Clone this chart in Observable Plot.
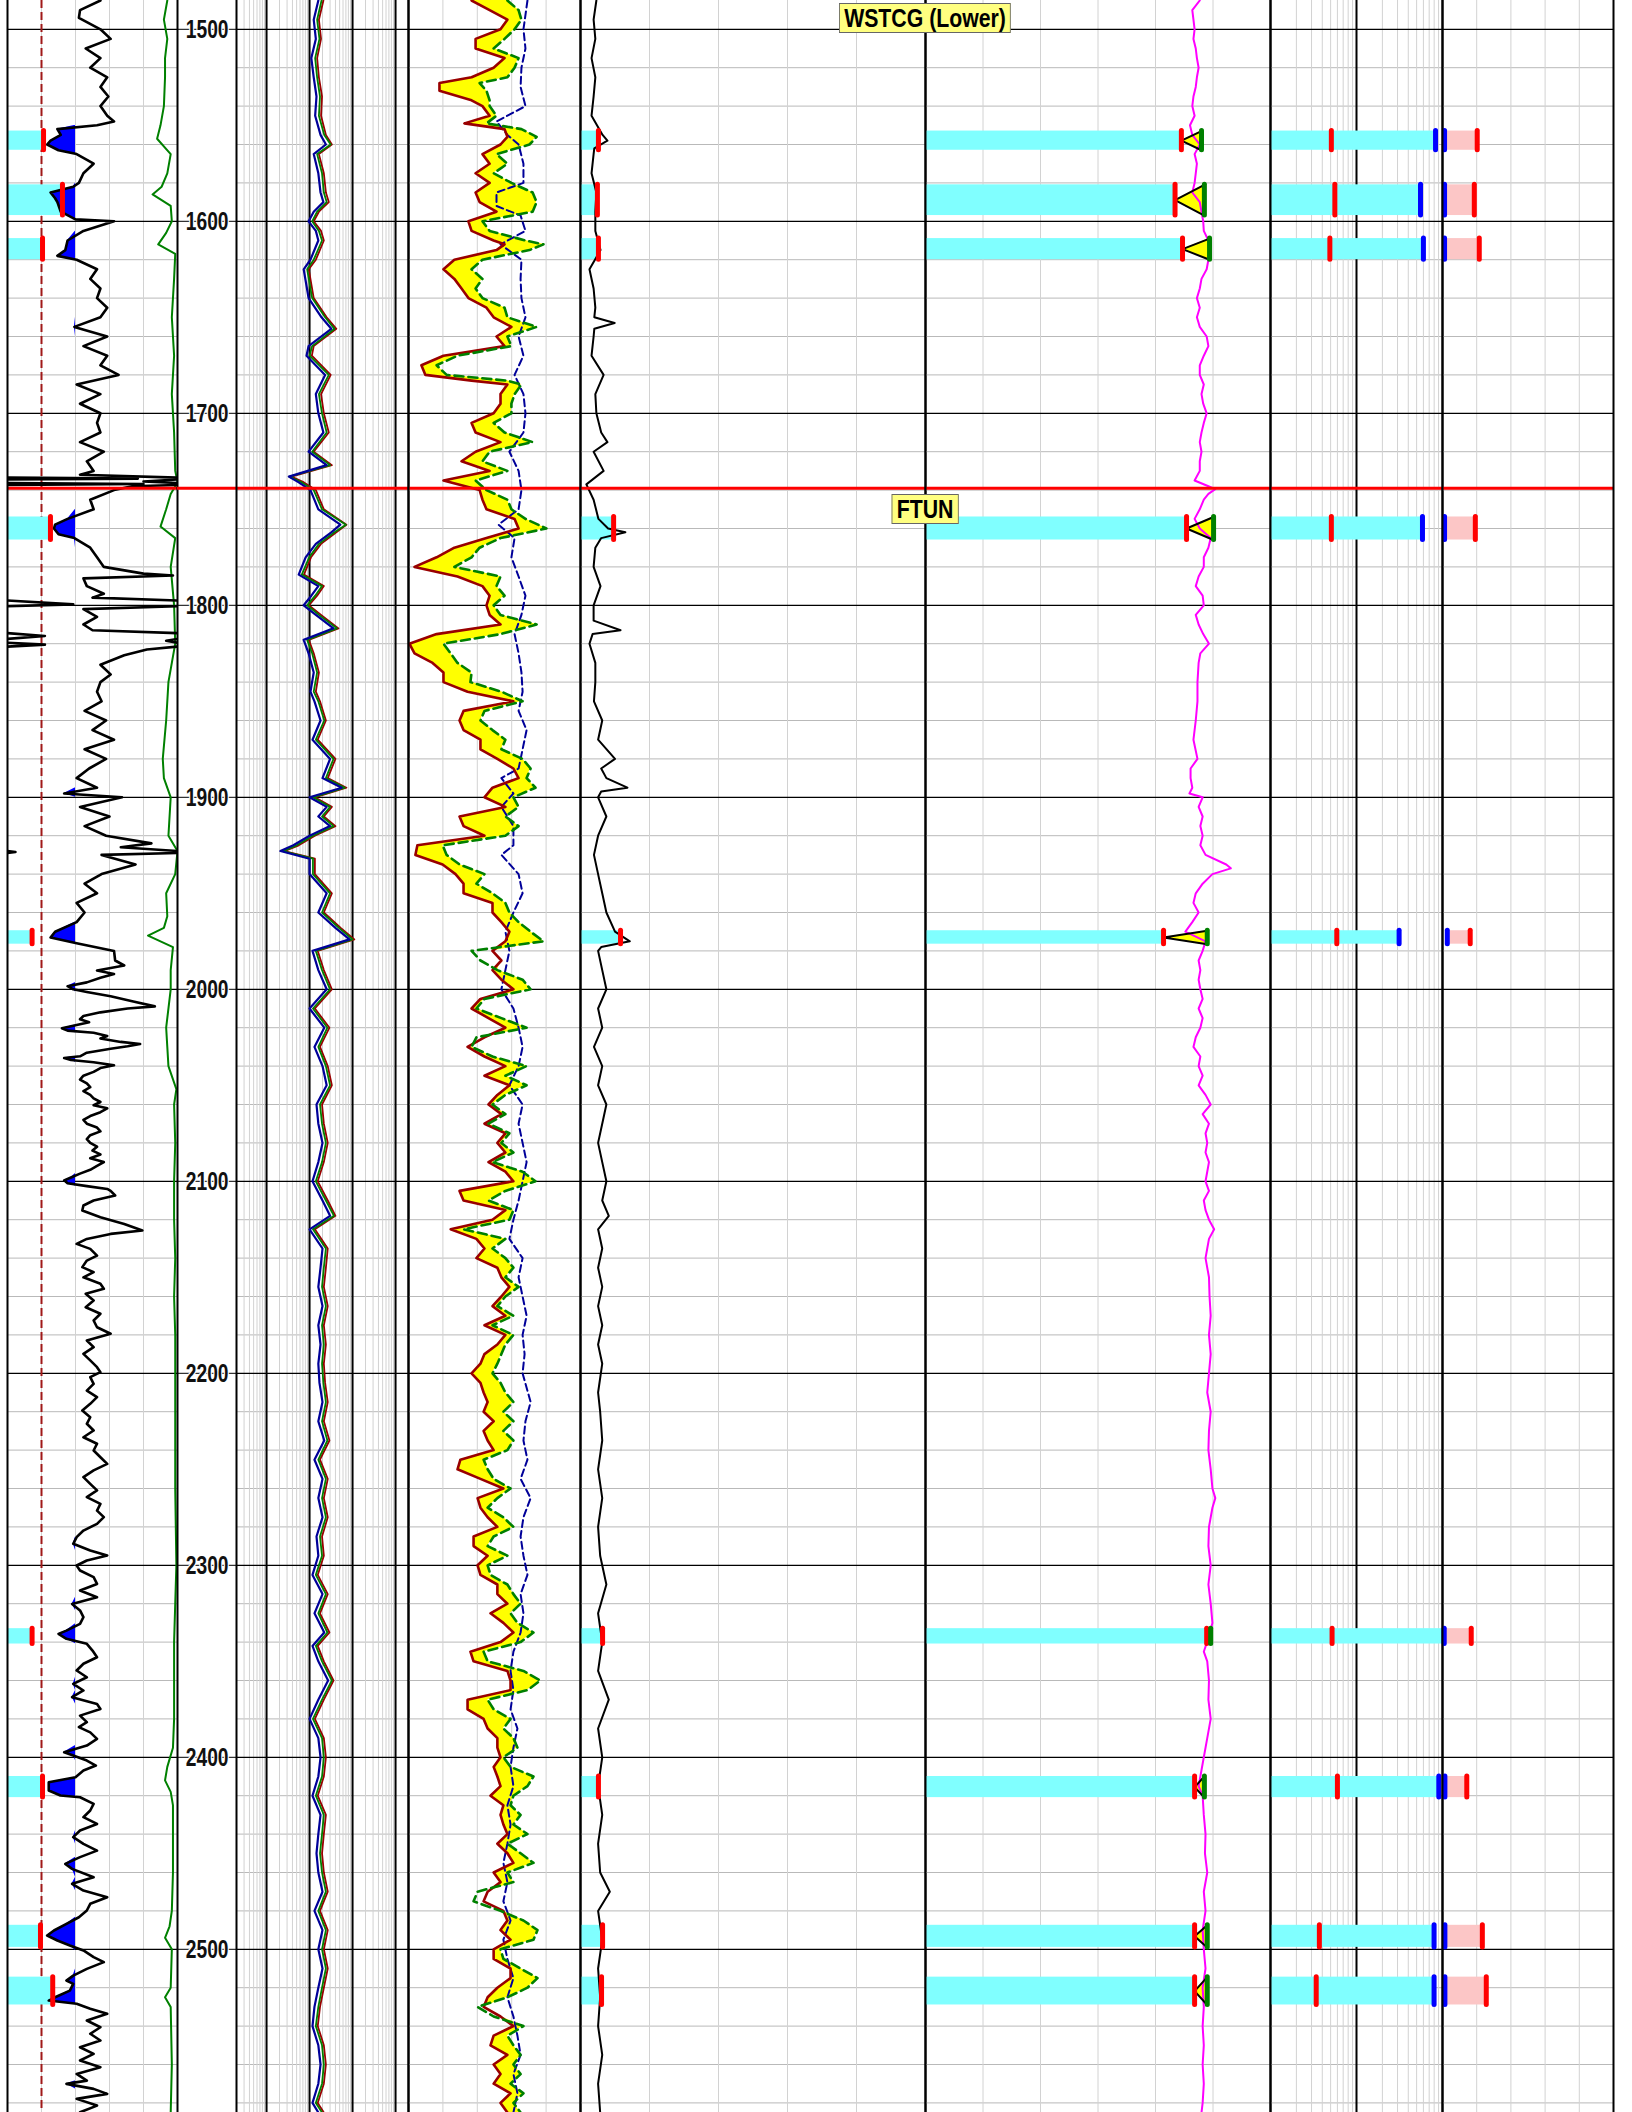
<!DOCTYPE html>
<html><head><meta charset="utf-8">
<script src="https://cdn.jsdelivr.net/npm/d3@7"></script>
<script src="https://cdn.jsdelivr.net/npm/@observablehq/plot@0.6"></script>
<style>
html,body{margin:0;padding:0;background:#fff;}
#chart{position:relative;width:1632px;height:2112px;overflow:hidden;background:#fff;}
#chart > div.trk{position:absolute;top:0;}
#chart svg{overflow:visible;background:transparent;}
.ftop{position:absolute;background:#ffff80;border:1px solid #666;font:bold 25px "Liberation Sans",Arial,sans-serif;line-height:28px;padding:0 5px;white-space:nowrap;transform:translateX(-50%) scaleX(0.85);color:#000;}
</style></head><body><div id="chart"></div>
<script>
// ---------------- DATA ----------------
const depthDomain = [1485, 2585];
const depthMajor = [1500,1600,1700,1800,1900,2000,2100,2200,2300,2400,2500];
const ftunDepth = 1739;
const formationNames = ["WSTCG (Lower)", "FTUN"];
const formationLabelDepths = [1494.5, 1750];

// zones (intervals)
const zoneTop  = [1553, 1581, 1609, 1754, 1969.5, 2333, 2410, 2487.5, 2514.5];
const zoneBase = [1563, 1597, 1620, 1766, 1976.5, 2341, 2421, 2499, 2529];
const zoneGR   = [31.8, 48.5, 30.9, 37.9, 21.7, 21.7, 30.9, 29.1, 39.9];
const zoneT4   = [5.2, 4.9, 5.2, 9.6, 11.6, 6.4, 5.2, 6.4, 6.1];
const zoneT5Red   = [44.5, 43.4, 44.7, 45.4, 41.4, 48.9, 46.8, 46.8, 46.8];
const zoneT5Green = [48.0, 48.5, 49.4, 50.1, 49.0, 49.6, 48.5, 49.0, 49.0];
const zoneT6Red   = [0.51, 0.56, 0.49, 0.51, 0.59, 0.52, 0.60, 0.37, 0.34];
const zoneT6Blue  = [8.3, 5.55, 6.0, 5.85, 3.13, null, 9.06, 7.98, 7.98];
const zoneT6Blue2 = [1.2, 1.2, 1.2, 1.2, 2.8, 1.0, 1.4, 1.4, 1.4];
const zoneT6Red2  = [20.3, 18.6, 21.5, 19.2, 16.2, 16.8, 14.2, 23.3, 25.6];

// Track 1: gamma ray [depth, API]
const gammaRay = [
[1485,82],[1490,64],[1494,63],[1500,82],[1505,91],[1510,69],[1515,82],[1520,73],[1525,88],[1530,82],[1535,89],[1540,82],[1545,88],[1548,94],[1550,79],[1552,44],[1555,47],[1558,38],[1560,35],[1563,45],[1565,61],[1570,76],[1575,67],[1580,63],[1582,58],[1585,38],[1588,42],[1590,44],[1595,47],[1599,60],[1600,94],[1605,67],[1610,53],[1615,51],[1618,44],[1620,61],[1625,79],[1630,73],[1635,82],[1640,79],[1645,88],[1650,82],[1655,59],[1660,88],[1665,67],[1670,88],[1675,82],[1680,98],[1685,61],[1690,82],[1695,64],[1700,82],[1705,79],[1710,82],[1715,64],[1720,85],[1725,70],[1730,76],[1732,64],[1733.5,150],[1734,265],[1734.5,150],[1735.5,120],[1736.3,150],[1736.8,270],[1737.3,150],[1738,110],[1740,94],[1745,73],[1750,76],[1755,53],[1758,42],[1760,41],[1763,45],[1765,59],[1770,73],[1775,79],[1780,85],[1783.5,120],[1784.5,146],[1786,67],[1790,70],[1794,85],[1796,75],[1797.5,150],[1799.5,208],[1800.5,150],[1802,67],[1806,79],[1810,67],[1813,75],[1814.5,150],[1816,183],[1817.5,150],[1818.5,140],[1819.5,150],[1820.5,183],[1821.5,150],[1823,123],[1826,103],[1831,82],[1836,91],[1840,82],
[1845,79],[1850,83],[1855,68],[1860,87],[1865,75],[1870,94],[1875,68],[1880,87],[1885,72],[1890,61],[1895,79],[1898,50],[1900,101],[1905,64],[1910,90],[1915,68],[1920,87],[1924,127],[1926,100],[1928,150],[1928.5,157],[1929,150],[1930,83],[1935,113],[1940,83],[1945,68],[1950,79],[1955,61],[1960,68],[1965,61],[1970,42],[1973,38],[1976,61],[1980,94],
[1985,95],[1987.6,103],[1990.2,79],[1992,94],[1994,82],[1996.4,70],[1998.4,53],[2000,58],[2001.4,70],[2003.6,91],[2006.3,111],[2008.9,130],[2010,106],[2012,82],[2013.9,67],[2015.6,64],[2017.2,72],[2018.6,61],[2020.3,48],[2021.5,53],[2022.6,76],[2024.3,88],[2025.6,82],[2027.4,100],[2028.5,117],[2029.7,106],[2031,91],[2033,70],[2034.9,64],[2035.8,50],[2036.8,56],[2038,76],[2039.6,94],[2041,82],[2043,76],[2045,67],[2047,64],[2049,70],[2051,73],[2053,67],[2055,73],[2056.8,76],[2058.7,82],[2060.4,76],[2062,88],[2064,82],[2066,73],[2068,67],[2070,70],[2072,79],[2074,82],[2076,73],[2078,70],[2080,73],[2082,79],[2084,75],[2086,82],[2088,73],[2090,85],[2092,79],[2094,73],[2096,64],[2098,56],[2099.5,50],[2101,53],[2102.5,70],[2104,88],[2105,91],[2107.4,95],[2110,76],[2112.6,67],[2115.2,66],[2118.7,82],[2122.2,103],[2125.6,119],[2127.4,91],[2130,70],[2132.6,61],[2135.2,73],[2138.7,79],[2141.3,70],[2144.7,66],[2147.3,76],[2150,67],[2153.4,82],[2156,85],[2158.6,69],[2162.1,76],[2165.6,69],[2169,82],[2172.5,76],[2176,79],[2179.4,91],[2182.9,70],[2186.4,76],[2189.9,67],[2193.3,73],[2196.8,79],[2199.4,82],[2202,73],[2205.5,76],[2209,70],[2212.4,79],[2215.9,73],[2219.4,66],[2222.9,73],[2226.3,70],[2229.8,76],[2233.3,67],[2236.7,79],[2240.2,76],[2243.7,82],[2247.2,88],[2250.6,76],[2254.1,67],[2257.6,73],[2261,79],[2264.5,70],[2268,82],[2271.5,79],[2274.9,85],[2278.4,79],[2281.9,67],[2285.3,61],[2288.8,58],[2292.3,73],[2294.9,88],[2297.5,70],[2300.1,61],[2302.7,64],[2306.2,76],[2309.7,79],[2313.1,64],[2316.6,79],[2320.1,57],[2323.5,64],[2327,67],[2330.5,64],[2334,52],[2335.7,45],[2338.3,52],[2340.9,70],[2344.4,75],[2347.9,79],[2351.3,67],[2354.8,61],[2358.3,70],[2361.8,58],[2365.2,67],[2368.7,57],[2372.2,79],[2374.8,82],[2378.3,64],[2381.7,70],[2384.3,63],[2387,73],[2390.4,79],[2393.9,70],[2397.4,50],[2399.1,58],[2401.7,70],[2404.3,78],[2406.9,67],[2410.4,60],[2413,36.4],[2417.3,36.4],[2419.9,46.7],[2420.8,64],[2424.3,76],[2427.7,73],[2431.2,67],[2434.7,79],[2438.1,64],[2441.6,58],[2445.1,67],[2448.6,79],[2452,64],[2455.5,51],[2458.1,57],[2462.5,76],[2465.9,57],[2469.4,67],[2472.9,88],[2476.3,73],[2479.8,70],[2483.3,63],[2486.8,52],[2490.2,41],[2492.8,35],[2495.4,44],[2498,55],[2500.6,67],[2504.1,76],[2506.7,85],[2510.2,70],[2513.7,58],[2516.3,52],[2518,58],[2521.5,55],[2525,42],[2526.7,36.4],[2528.4,61],[2531,73],[2533.6,88],[2537.1,70],[2540.6,82],[2544,73],[2547.5,82],[2551,64],[2554.5,76],[2557.9,64],[2561.4,82],[2564.9,61],[2568.4,70],[2570.1,52],[2572.7,76],[2575.3,88],[2577.9,61],[2581.4,79],[2584.9,64]
];
// Track 1: green curve (same scale units)
const t1GreenCurve = [
[1485,141],[1495,138],[1505,141],[1515,139],[1525,139],[1540,138],[1550,135],[1557,132],[1565,144],[1575,141],[1582,136],[1586,128],[1592,144],[1600,145],[1606,140],[1612,133],[1617,148],[1630,147],[1650,145],[1670,147],[1690,145],[1710,147],[1730,148],[1736,150],[1742,144],[1750,140],[1759,135],[1765,148],[1780,144],[1800,147],[1820,148],[1840,142],[1860,140],[1880,137],[1890,138],[1900,144],[1920,142],[1928,150],[1940,148],[1950,140],[1962,141],[1968,138],[1972,124],[1978,146],[1990,144],[2000,144],[2020,140],[2030,141],[2040,142],[2052,149],[2060,147],[2080,148],[2100,147],[2120,147],[2140,148],[2160,147],[2180,148],[2200,148],[2220,148],[2260,148],[2300,149],[2340,147],[2380,147],[2395,146],[2405,141],[2412,139],[2418,144],[2425,146],[2460,146],[2480,145],[2488,143],[2494,139],[2500,145],[2520,144],[2525,139],[2530,144],[2560,145],[2585,144]
];

// Track 2: resistivity (ohm.m)
const resDeep = [
[1485,16],[1495,12.5],[1505,14],[1515,11],[1525,12.5],[1535,14.5],[1545,13.5],[1555,18],[1560,24],[1565,12.5],[1575,16],[1585,18],[1590,21],[1595,12.5],[1600,9.5],[1605,14],[1610,16],[1620,10.5],[1625,7.3],[1640,9.5],[1650,19],[1656,32],[1665,9.5],[1670,8.5],[1680,23],[1690,14],[1700,16],[1710,21],[1720,9.5],[1727,25],[1733,3.3],[1736,5.6],[1740,10.5],[1750,16],[1758,52],[1762,32],[1768,14],[1775,8.1],[1784,5.6],[1790,16],[1795,11],[1800,7.3],[1805,14],[1812,36],[1818,7.3],[1825,9.5],[1835,12.5],[1845,10.5],[1850,13],[1860,18],[1870,11.7],[1880,30],[1890,20],[1895,56],[1900,10],[1905,25],[1910,16],[1915,30],[1920,10],[1925,4.2],[1928,2.1],[1932,10],[1940,10],[1950,25],[1960,16],[1968,40],[1974,85],[1980,11.7],[1990,16],[2000,25],[2010,10],[2020,22],[2030,13],[2040,20],[2050,25],[2060,14.5],[2070,16],[2080,20],[2090,16],[2100,11.7],[2110,20],[2118,30],[2125,10],[2135,20],[2145,18],[2155,16],[2165,20],[2175,16],[2185,18],[2195,16],[2205,17],[2215,20],[2225,16],[2235,22],[2245,13],[2255,20],[2265,16],[2275,20],[2285,14.5],[2295,16],[2305,11.7],[2315,20],[2325,13],[2335,22],[2342,11.7],[2350,16],[2360,27],[2370,16],[2380,10],[2390,16],[2400,18],[2410,16],[2420,11.7],[2430,18],[2440,16],[2450,14.5],[2460,16],[2470,20],[2480,13],[2490,20],[2500,16],[2510,20],[2520,16],[2530,13],[2540,11.7],[2550,16],[2560,18],[2570,16],[2580,11.7],[2585,16]
];
const resMedium = [
[1485,19],[1495,15],[1505,17],[1515,13.5],[1525,15],[1535,17.5],[1545,16.5],[1555,22],[1560,31],[1565,15],[1575,19.5],[1585,21.5],[1590,25],[1595,15],[1600,11.5],[1605,16.5],[1610,19.5],[1620,12.5],[1625,8.8],[1640,11.5],[1650,23],[1656,38],[1665,11.5],[1670,10],[1680,28],[1690,16.5],[1700,19.5],[1710,25],[1720,11.5],[1727,30],[1733,3.4],[1736,6.6],[1740,12.5],[1750,19.5],[1758,70],[1762,38],[1768,16.5],[1775,9.8],[1784,6.6],[1790,19.5],[1795,13.5],[1800,8.8],[1805,16.5],[1812,43],[1818,8.8],[1825,11.5],[1835,15],[1845,12.5],[1850,16],[1860,22],[1870,14],[1880,36],[1890,24],[1895,66],[1900,12],[1905,30],[1910,19.5],[1915,36],[1920,12],[1925,5],[1928,2.4],[1932,12],[1940,12],[1950,30],[1960,19.5],[1968,48],[1974,100],[1980,14],[1990,19.5],[2000,30],[2010,12],[2020,26],[2030,16],[2040,24],[2050,30],[2060,17.5],[2070,19.5],[2080,24],[2090,19.5],[2100,14],[2110,24],[2118,37],[2125,12],[2135,24],[2145,21.5],[2155,19.5],[2165,24],[2175,19.5],[2185,21.5],[2195,19.5],[2205,21],[2215,24],[2225,19.5],[2235,26],[2245,16],[2255,24],[2265,19.5],[2275,24],[2285,17.5],[2295,19.5],[2305,14],[2315,24],[2325,16],[2335,26],[2342,14],[2350,19.5],[2360,33],[2370,19.5],[2380,12],[2390,19.5],[2400,21.5],[2410,19.5],[2420,14],[2430,21.5],[2440,19.5],[2450,17.5],[2460,19.5],[2470,24],[2480,16],[2490,24],[2500,19.5],[2510,24],[2520,19.5],[2530,16],[2540,14],[2550,19.5],[2560,21.5],[2570,19.5],[2580,14],[2585,19.5]
];
const resShallow = [
[1485,21],[1495,16.5],[1505,18.5],[1515,15],[1525,16.5],[1535,19.5],[1545,18.5],[1555,24],[1560,33],[1565,16.5],[1575,21.5],[1585,24],[1590,28],[1595,16.5],[1600,12.5],[1605,18.5],[1610,21.5],[1620,14],[1625,9.6],[1640,12.5],[1650,25],[1656,42],[1665,12.5],[1670,11.3],[1680,31],[1690,18.5],[1700,21.5],[1710,28],[1720,12.5],[1727,33],[1733,3.8],[1736,7.4],[1740,14],[1750,21.5],[1758,72],[1762,42],[1768,18.5],[1775,10.8],[1784,7.4],[1790,21.5],[1795,15],[1800,9.6],[1805,18.5],[1812,47],[1818,9.6],[1825,12.5],[1835,16.5],[1845,14],[1850,17.5],[1860,24],[1870,15.5],[1880,40],[1890,26.5],[1895,72],[1900,13.3],[1905,33],[1910,21.5],[1915,40],[1920,13.3],[1925,5.6],[1928,2.6],[1932,13.3],[1940,13.3],[1950,33],[1960,21.5],[1968,53],[1974,110],[1980,15.5],[1990,21.5],[2000,33],[2010,13.3],[2020,29],[2030,17.5],[2040,26.5],[2050,33],[2060,19.5],[2070,21.5],[2080,26.5],[2090,21.5],[2100,15.5],[2110,26.5],[2118,40],[2125,13.3],[2135,26.5],[2145,24],[2155,21.5],[2165,26.5],[2175,21.5],[2185,24],[2195,21.5],[2205,23],[2215,26.5],[2225,21.5],[2235,29],[2245,17.5],[2255,26.5],[2265,21.5],[2275,26.5],[2285,19.5],[2295,21.5],[2305,15.5],[2315,26.5],[2325,17.5],[2335,29],[2342,15.5],[2350,21.5],[2360,36],[2370,21.5],[2380,13.3],[2390,21.5],[2400,24],[2410,21.5],[2420,15.5],[2430,24],[2440,21.5],[2450,19.5],[2460,21.5],[2470,26.5],[2480,17.5],[2490,26.5],[2500,21.5],[2510,26.5],[2520,21.5],[2530,17.5],[2540,15.5],[2550,21.5],[2560,24],[2570,21.5],[2580,15.5],[2585,21.5]
];

// Track 3: [depth, red solid (porosity), green dashed (porosity)]
const densityNeutron = [
[1485,23.0,10.5],[1490,16.7,6.6],[1495,10.5,5.6],[1500,12.9,8.0],[1505,21.6,11.5],[1510,21.6,15.3],[1515,11.5,6.6],[1520,15.3,8.0],[1525,23.0,10.5],[1528,34.2,20.2],[1532,34.2,17.8],[1537,23.0,16.7],[1540,19.2,16.7],[1545,16.7,14.3],[1549,25.5,17.8],[1552,11.5,5.6],[1556,10.5,0.3],[1560,12.9,2.8],[1565,19.2,14.3],[1570,16.7,10.5],[1575,21.6,15.3],[1580,16.7,9.1],[1585,21.6,1.7],[1590,20.2,0.3],[1595,14.3,1.7],[1600,24.1,19.2],[1605,23.0,16.7],[1610,15.3,4.2],[1612,11.5,-2.1],[1615,14.3,2.8],[1620,29.0,19.2],[1625,32.8,23.0],[1630,29.0,19.2],[1635,26.5,21.6],[1640,24.1,19.2],[1645,17.8,11.5],[1650,15.3,10.5],[1655,9.1,0.3],[1660,14.3,10.5],[1665,11.5,9.1],[1670,32.8,27.9],[1675,40.5,35.2],[1680,39.1,31.7],[1683,23.0,10.5],[1685,10.5,5.6],[1690,12.9,8.0],[1695,12.9,9.1],[1700,15.3,9.1],[1705,23.0,15.3],[1710,21.6,11.5],[1715,12.9,1.7],[1720,21.6,16.7],[1725,26.5,19.2],[1730,16.7,10.5],[1735,32.8,21.6],[1740,20.2,17.8],[1745,19.2,10.5],[1750,17.8,9.1],[1755,8.0,4.2],[1760,6.6,-3.1],[1765,17.8,12.9],[1770,29.0,20.2],[1775,35.2,23.0],[1780,42.9,29.0],[1785,27.9,12.9],[1790,19.2,14.3],[1795,16.7,11.5],[1800,17.8,15.3],[1805,16.7,12.9],[1810,12.9,0.3],[1815,35.2,12.9],[1820,44.7,32.8],[1825,42.9,30.3],[1830,36.6,27.9],[1835,32.8,23.0],[1840,32.8,23.4],
[1845,24.4,12.6],[1850,8.4,5.2],[1855,25.8,18.5],[1860,27.2,19.9],[1865,25.8,15.7],[1870,19.9,11.2],[1875,19.9,12.6],[1880,14.0,5.2],[1885,8.4,2.4],[1890,6.6,3.8],[1895,15.7,0.7],[1900,18.5,8.4],[1905,11.2,6.6],[1910,27.2,11.2],[1915,25.8,6.6],[1920,18.5,11.2],[1925,41.9,33.1],[1930,42.6,31.7],[1935,33.1,27.2],[1940,28.6,18.5],[1945,25.8,21.3],[1950,25.8,15.7],[1955,15.7,11.2],[1960,15.7,9.8],[1965,12.6,6.6],[1970,9.8,2.4],[1975,11.2,-2.1],[1980,15.7,23.0],[1985,12.6,19.9],[1990,15.7,14.0],[1995,12.6,5.2],[2000,8.4,2.4],[2005,19.9,18.5],[2010,23.0,21.3],[2015,17.1,12.6],[2020,11.2,3.8],[2025,18.5,21.3],[2030,24.4,23.0],[2035,18.5,15.7],[2040,11.2,3.8],[2045,18.5,11.2],[2050,9.8,3.8],[2055,14.0,11.2],[2060,17.1,15.7],[2065,12.6,11.2],[2070,18.5,17.1],[2075,11.2,9.8],[2080,14.0,12.6],[2085,11.2,8.4],[2090,17.1,15.7],[2095,11.2,5.2],[2100,8.4,0.7],[2105,27.2,11.2],[2110,25.8,17.1],[2115,11.2,8.4],[2120,15.7,9.8],[2125,30.3,25.8],[2130,21.3,11.2],[2135,18.5,15.7],[2140,21.3,11.2],[2145,14.0,8.4],[2150,12.6,11.2],[2155,9.8,6.6],[2160,12.6,11.2],[2165,15.7,14.0],[2170,11.2,8.4],[2175,18.5,15.7],[2180,11.2,8.4],[2185,14.0,11.2],[2190,18.5,12.6],[2195,19.9,14.0],[2200,23.0,15.7],
[2205,19.9,12.9],[2210,18.8,11.2],[2215,17.4,8.4],[2220,18.8,11.9],[2225,15.3,8.4],[2230,18.8,11.9],[2235,17.4,8.4],[2240,15.3,10.5],[2245,26.9,18.8],[2250,27.9,17.4],[2255,19.9,15.3],[2260,11.9,9.4],[2265,20.9,14.0],[2270,19.9,17.4],[2275,17.4,11.9],[2280,14.0,8.4],[2285,22.3,15.3],[2290,22.3,17.4],[2295,17.4,10.5],[2300,20.9,17.4],[2305,19.9,16.4],[2310,14.0,10.5],[2315,14.0,8.4],[2320,10.5,5.9],[2325,16.4,9.4],[2330,11.9,7.0],[2335,8.4,1.4],[2340,12.9,5.9],[2345,23.4,18.8],[2350,22.3,17.4],[2355,10.5,4.9],[2360,9.4,-1.0],[2365,9.4,3.5],[2370,24.4,17.4],[2375,24.4,15.3],[2380,18.8,9.4],[2385,17.4,11.9],[2390,14.0,8.4],[2395,14.0,7.0],[2400,12.9,11.9],[2405,15.3,9.4],[2410,14.0,1.4],[2415,12.9,3.5],[2420,16.4,8.4],[2425,11.9,9.4],[2430,12.9,5.9],[2435,11.9,8.4],[2440,10.5,3.5],[2445,14.0,10.5],[2450,10.5,5.9],[2455,8.4,1.4],[2460,15.3,10.5],[2465,12.9,8.4],[2470,17.4,20.9],[2475,18.8,22.3],[2480,11.9,12.9],[2485,10.5,4.9],[2490,12.9,0.0],[2495,9.4,1.4],[2500,15.3,12.9],[2505,15.3,11.9],[2510,9.4,5.9],[2515,9.4,0.0],[2520,14.0,3.5],[2525,17.4,10.5],[2530,18.8,20.9],[2535,12.9,15.3],[2540,8.4,4.9],[2545,15.3,10.5],[2550,16.4,8.4],[2555,10.5,5.9],[2560,15.3,8.4],[2565,12.9,5.9],[2570,15.3,9.4],[2575,9.4,4.9],[2580,12.9,8.4],[2585,10.5,5.9]
];
// Track 3: blue dashed curve (porosity units)
const t3BlueCurve = [
[1485,3.5],[1500,4.9],[1510,4.2],[1520,5.6],[1530,5.9],[1540,4.2],[1548,14.3],[1555,10.5],[1560,6.6],[1570,4.9],[1580,4.9],[1585,14.3],[1592,14.3],[1597,5.9],[1605,4.2],[1612,12.9],[1620,5.6],[1630,5.9],[1640,5.6],[1650,4.2],[1660,6.6],[1670,4.9],[1680,8.0],[1690,4.9],[1700,4.2],[1710,4.9],[1720,9.8],[1730,6.6],[1740,5.6],[1750,6.6],[1758,13.6],[1765,8.0],[1775,9.1],[1785,6.6],[1795,4.2],[1805,5.6],[1815,8.0],[1825,6.6],[1835,5.6],[1845,5.2],[1855,6.6],[1865,3.8],[1875,5.2],[1885,6.6],[1890,12.6],[1898,8.4],[1905,12.6],[1915,8.4],[1925,8.4],[1930,12.6],[1940,6.6],[1950,5.2],[1960,8.4],[1970,11.2],[1980,9.8],[1990,11.2],[2000,12.6],[2010,8.4],[2020,6.6],[2030,5.2],[2040,6.6],[2050,9.8],[2060,5.2],[2070,6.6],[2080,5.2],[2090,3.8],[2100,5.2],[2110,6.6],[2120,8.4],[2130,9.8],[2140,5.2],[2150,6.6],[2160,5.2],[2170,3.8],[2180,5.2],[2190,4.5],[2200,5.2],[2215,2.4],[2225,4.2],[2235,4.9],[2245,3.5],[2255,5.9],[2265,2.4],[2275,4.9],[2285,5.9],[2295,4.9],[2305,3.5],[2315,5.9],[2325,4.9],[2335,5.9],[2345,8.4],[2355,9.4],[2365,8.4],[2375,9.4],[2385,7.0],[2395,8.4],[2405,9.4],[2415,8.4],[2425,10.5],[2435,9.4],[2445,10.5],[2455,11.9],[2465,10.5],[2475,11.9],[2485,9.4],[2495,11.9],[2505,10.5],[2515,8.4],[2525,10.5],[2535,8.4],[2545,7.0],[2555,5.9],[2565,8.4],[2575,7.0],[2585,8.4]
];

// Track 4: black curve
const t4Curve = [
[1485,4.6],[1495,3.8],[1505,4.3],[1515,3.2],[1525,4.3],[1535,3.8],[1545,3.2],[1555,6.4],[1558,7.8],[1562,4.0],[1565,3.8],[1575,3.2],[1585,4.6],[1595,4.3],[1605,4.3],[1615,5.8],[1625,2.6],[1635,3.8],[1645,4.3],[1650,4.0],[1653,9.9],[1656,4.0],[1660,3.8],[1670,3.2],[1680,6.7],[1690,4.3],[1700,4.6],[1710,6.0],[1715,7.8],[1720,3.8],[1730,6.7],[1737,1.7],[1745,3.8],[1755,5.2],[1760,8.0],[1762,13.0],[1765,6.0],[1770,4.3],[1780,3.8],[1790,5.8],[1800,3.8],[1808,3.8],[1813,11.6],[1815,3.5],[1820,2.6],[1830,4.3],[1840,4.3],[1850,3.9],[1860,6.3],[1870,5.1],[1880,10.0],[1885,6.0],[1890,7.5],[1895,13.6],[1897,6.0],[1900,5.1],[1910,7.5],[1920,5.1],[1930,3.9],[1940,5.1],[1950,6.3],[1960,7.5],[1970,10.0],[1975,14.3],[1978,6.0],[1980,5.1],[1990,6.3],[2000,7.5],[2010,5.1],[2020,6.3],[2030,3.9],[2040,6.3],[2050,5.1],[2060,7.5],[2070,6.3],[2080,5.1],[2090,6.3],[2100,7.5],[2110,6.3],[2118,8.2],[2125,5.1],[2135,6.3],[2145,5.1],[2155,6.3],[2165,5.1],[2175,6.3],[2185,5.1],[2195,6.3],[2210,5.1],[2220,5.7],[2235,6.3],[2250,5.1],[2265,6.3],[2280,5.1],[2295,5.7],[2310,7.5],[2325,5.1],[2340,6.3],[2355,5.1],[2370,8.2],[2385,5.1],[2400,6.3],[2415,5.1],[2430,6.3],[2445,5.1],[2460,5.7],[2470,8.5],[2480,5.1],[2495,6.3],[2510,5.1],[2525,5.7],[2540,5.1],[2555,6.3],[2570,5.1],[2585,5.7]
];

// Track 5: magenta curve
const t5Magenta = [
[1485,47.7],[1490,46.4],[1495,46.6],[1500,46.8],[1505,46.6],[1510,47.0],[1515,47.2],[1520,47.5],[1525,47.2],[1530,47.0],[1535,46.6],[1540,46.4],[1545,46.8],[1550,46.0],[1555,46.4],[1560,47.7],[1565,46.8],[1570,47.2],[1575,47.0],[1580,46.8],[1585,46.4],[1590,47.7],[1595,48.0],[1600,48.3],[1605,48.4],[1610,49.2],[1615,49.6],[1620,49.2],[1625,48.9],[1630,48.0],[1635,47.7],[1640,47.2],[1645,47.7],[1650,47.2],[1655,47.7],[1660,48.9],[1665,49.2],[1670,48.4],[1675,47.7],[1680,47.7],[1685,48.4],[1690,48.0],[1695,48.3],[1700,48.9],[1705,48.4],[1710,48.0],[1715,47.7],[1720,48.0],[1725,47.7],[1730,47.7],[1735,46.8],[1738,49.2],[1739.5,50.4],[1742,49.2],[1745,48.4],[1750,47.7],[1755,46.8],[1760,47.7],[1765,49.6],[1770,49.2],[1775,48.4],[1780,48.4],[1785,47.5],[1790,47.0],[1795,48.2],[1800,48.4],[1805,47.0],[1810,47.5],[1815,48.3],[1820,49.3],[1825,47.8],[1830,47.5],[1840,47.3],[1850,47.3],[1860,47.0],[1870,46.6],[1880,47.3],[1885,46.1],[1890,46.1],[1895,46.4],[1898,45.9],[1900,48.2],[1905,47.5],[1910,48.2],[1915,47.8],[1920,48.2],[1925,47.8],[1930,48.7],[1935,52.3],[1937,53.1],[1940,49.9],[1945,48.2],[1950,47.0],[1955,46.6],[1960,47.5],[1965,46.4],[1970,45.2],[1975,48.7],[1980,48.2],[1985,47.5],[1990,47.8],[1995,47.5],[2000,47.8],[2005,48.2],[2010,47.5],[2015,48.2],[2020,47.8],[2025,47.0],[2030,46.6],[2035,47.8],[2040,47.5],[2045,48.2],[2050,47.5],[2055,48.7],[2060,49.6],[2065,48.2],[2070,49.3],[2075,48.7],[2080,49.0],[2085,48.7],[2090,49.3],[2095,49.0],[2100,48.7],[2105,49.3],[2110,48.4],[2115,48.7],[2120,49.3],[2125,50.2],[2130,49.3],[2135,49.0],[2140,48.7],[2150,49.3],[2160,49.4],[2170,49.6],[2180,49.3],[2190,49.6],[2200,49.3],[2210,49.0],[2220,49.6],[2230,49.3],[2240,49.2],[2250,49.6],[2260,49.9],[2265,50.4],[2270,49.9],[2280,49.3],[2290,49.2],[2300,49.6],[2310,49.2],[2320,49.6],[2330,49.9],[2337,49.3],[2345,48.4],[2350,49.0],[2360,49.3],[2370,49.2],[2380,49.6],[2390,49.0],[2400,48.4],[2410,47.8],[2415,47.5],[2420,48.2],[2430,48.4],[2440,48.7],[2450,48.6],[2460,49.0],[2470,48.4],[2480,48.7],[2490,48.2],[2500,48.4],[2510,48.7],[2520,48.2],[2530,48.4],[2540,48.2],[2550,48.4],[2560,48.2],[2570,48.4],[2580,48.2],[2585,48.0]
];

// ---------------- DRAWING ----------------
const H = 2112;
const chart = document.getElementById("chart");
const depthMinor = d3.range(1500, 2586, 20).filter(d => d % 100 !== 0);
const zones = zoneTop.map((t, i) => ({
  top: t, base: zoneBase[i], mid: (t + zoneBase[i]) / 2,
  gr: zoneGR[i], t4: zoneT4[i], t5r: zoneT5Red[i], t5g: zoneT5Green[i],
  t6r: zoneT6Red[i], t6b: zoneT6Blue[i], t6b2: zoneT6Blue2[i], t6r2: zoneT6Red2[i]
}));
const triangles = zones.flatMap((z, i) => [
  {zone: i, d: z.top, a: z.t5g, b: z.t5g},
  {zone: i, d: z.mid, a: z.t5r, b: z.t5g},
  {zone: i, d: z.base, a: z.t5g, b: z.t5g}
]);
function logMinor(lo, hi) {
  const out = [];
  for (let dec = lo; dec < hi; dec *= 10) for (let k = 2; k <= 9; k++) { const v = dec * k; if (v > lo * 1.0001 && v < hi * 0.9999) out.push(v); }
  return out;
}
const CYAN = "#80ffff", PINK = "#fcc6c6";

function gridMarks(minorX, edgesX) {
  return [
    Plot.ruleY(depthMinor, {stroke: "#b9b9b9", strokeWidth: 1}),
    Plot.ruleX(minorX, {stroke: "#d2d2d2", strokeWidth: 1}),
    Plot.ruleY(depthMajor, {stroke: "#000", strokeWidth: 1.2}),
    Plot.ruleX(edgesX, {stroke: "#000", strokeWidth: 2})
  ];
}
const ftunRule = Plot.ruleY([ftunDepth], {stroke: "#ff0000", strokeWidth: 3});
function tick(data, x, color, w = 5) {
  return Plot.ruleX(data, {x, y1: "top", y2: "base", stroke: color, strokeWidth: w, strokeLinecap: "round"});
}
function addTrack(left, width, xScale, marks) {
  const div = document.createElement("div");
  div.className = "trk";
  div.style.left = left + "px";
  const svg = Plot.plot({
    width, height: H, margin: 0,
    style: {overflow: "visible", background: "transparent"},
    x: {...xScale, axis: null},
    y: {domain: depthDomain, reverse: true, axis: null},
    marks
  });
  div.appendChild(svg);
  chart.appendChild(div);
  return svg;
}

// Track 1
addTrack(7, 170, {domain: [0, 150]}, [
  ...gridMarks([30, 60, 90, 120], []),
  Plot.ruleX([30], {stroke: "#a01818", strokeWidth: 2, strokeDasharray: "8,4"}),
  Plot.rect(zones, {x1: 0, x2: "gr", y1: "top", y2: "base", fill: CYAN}),
  Plot.areaX(gammaRay, {y: d => d[0], x1: d => Math.min(d[1], 60), x2: 60, fill: "#0000ff"}),
  Plot.line(t1GreenCurve, {x: d => d[1], y: d => d[0], stroke: "#008000", strokeWidth: 2, clip: true}),
  Plot.line(gammaRay, {x: d => d[1], y: d => d[0], stroke: "#000", strokeWidth: 2.6, clip: true}),
  Plot.line(gammaRay, {x: d => d[1] >= 150 ? d[1] - 150 : NaN, y: d => d[0], stroke: "#000", strokeWidth: 2.6, clip: true}),
  tick(zones, "gr", "#ff0000"),
  ftunRule,
  Plot.ruleX([0, 150], {stroke: "#000", strokeWidth: 2})
]);

// Depth track
const depthSvg = addTrack(177, 59, {domain: [0, 1]}, [
  Plot.ruleY(depthMajor, {stroke: "#000", strokeWidth: 1}),
  ftunRule,
  Plot.text(depthMajor, {y: d => d, text: d => String(d), frameAnchor: "middle", textAnchor: "middle", fontSize: 26, fontWeight: "bold", fontFamily: "'Liberation Sans',Arial,sans-serif", fill: "#111", stroke: "#fff", strokeWidth: 3, paintOrder: "stroke"})
]);
// condense the depth labels horizontally (narrow bold look), scaling about each label's centre
{
  const svgBox = depthSvg.getBoundingClientRect();
  depthSvg.querySelectorAll("text").forEach(t => {
    const b = t.getBoundingClientRect();
    const cx = b.left + b.width / 2 - svgBox.left;
    const g = document.createElementNS("http://www.w3.org/2000/svg", "g");
    g.setAttribute("transform", `translate(${cx},0) scale(0.74,1) translate(${-cx},0)`);
    t.parentNode.insertBefore(g, t);
    g.appendChild(t);
  });
}

// Track 2: resistivity log
addTrack(236, 172, {type: "log", domain: [0.2, 2000]}, [
  ...gridMarks(logMinor(0.1, 2000).filter(v => v > 0.2), [1, 10, 100, 1000]),
  Plot.line(resShallow, {x: d => d[1], y: d => d[0], stroke: "#990000", strokeWidth: 1.8, clip: true}),
  Plot.line(resMedium, {x: d => d[1], y: d => d[0], stroke: "#008000", strokeWidth: 1.8, clip: true}),
  Plot.line(resDeep, {x: d => d[1], y: d => d[0], stroke: "#000099", strokeWidth: 2.2, clip: true}),
  ftunRule,
  Plot.ruleX([0.2, 2000], {stroke: "#000", strokeWidth: 2})
]);

// Track 3
addTrack(408, 172, {domain: [45, -15]}, [
  ...gridMarks([33, 21, 9, -3], []),
  Plot.areaX(densityNeutron, {y: d => d[0], x1: d => d[1], x2: d => Math.min(d[1], d[2]), fill: "#ffff00"}),
  Plot.line(t3BlueCurve, {x: d => d[1], y: d => d[0], stroke: "#000099", strokeWidth: 2, strokeDasharray: "7,4", clip: true}),
  Plot.line(densityNeutron, {x: d => d[1], y: d => d[0], stroke: "#990000", strokeWidth: 2.6, clip: true}),
  Plot.line(densityNeutron, {x: d => d[2], y: d => d[0], stroke: "#008000", strokeWidth: 2.6, strokeDasharray: "9,5", clip: true}),
  ftunRule,
  Plot.ruleX([45, -15], {stroke: "#000", strokeWidth: 2})
]);

// Track 4
addTrack(580, 345, {domain: [0, 100]}, [
  ...gridMarks([20, 40, 60, 80], []),
  Plot.rect(zones, {x1: 0, x2: "t4", y1: "top", y2: "base", fill: CYAN}),
  Plot.line(t4Curve, {x: d => d[1], y: d => d[0], stroke: "#000", strokeWidth: 2, clip: true}),
  tick(zones, "t4", "#ff0000"),
  ftunRule,
  Plot.ruleX([0, 100], {stroke: "#000", strokeWidth: 2})
]);

// Track 5
const t5 = addTrack(925, 345, {domain: [0, 60]}, [
  ...gridMarks([10, 20, 30, 40, 50], []),
  Plot.rect(zones, {x1: 0, x2: "t5r", y1: "top", y2: "base", fill: CYAN}),
  Plot.areaX(triangles, {y: "d", x1: "a", x2: "b", z: "zone", fill: "#ffff00"}),
  Plot.line(t5Magenta, {x: d => d[1], y: d => d[0], stroke: "#ff00ff", strokeWidth: 2, clip: true}),
  Plot.line(triangles, {x: "a", y: "d", z: "zone", stroke: "#000", strokeWidth: 2}),
  tick(zones, "t5r", "#ff0000"),
  tick(zones, "t5g", "#008000"),
  ftunRule,
  Plot.ruleX([0, 60], {stroke: "#000", strokeWidth: 2})
]);

// Track 6 (left, log)
addTrack(1270, 172, {type: "log", domain: [0.1, 10]}, [
  ...gridMarks(logMinor(0.1, 10), [1]),
  Plot.rect(zones, {x1: 0.1, x2: z => z.t6b ?? 10, y1: "top", y2: "base", fill: CYAN}),
  tick(zones, "t6r", "#ff0000"),
  tick(zones.filter(z => z.t6b != null), "t6b", "#0000ff"),
  ftunRule,
  Plot.ruleX([0.1, 10], {stroke: "#000", strokeWidth: 2})
]);
// Track 6 (right, linear)
addTrack(1442, 171, {domain: [0, 100]}, [
  ...gridMarks([20, 40, 60, 80], []),
  Plot.rect(zones, {x1: "t6b2", x2: "t6r2", y1: "top", y2: "base", fill: PINK}),
  tick(zones, "t6b2", "#0000ff"),
  tick(zones, "t6r2", "#ff0000"),
  ftunRule,
  Plot.ruleX([0, 100], {stroke: "#000", strokeWidth: 2})
]);

// formation labels, positioned with track 5's depth scale
const yScale = t5.scale("y");
formationNames.forEach((name, i) => {
  const el = document.createElement("div");
  el.className = "ftop";
  el.textContent = name;
  el.style.left = "925px";
  el.style.top = (yScale.apply(formationLabelDepths[i]) - 15) + "px";
  chart.appendChild(el);
});
</script></body></html>
